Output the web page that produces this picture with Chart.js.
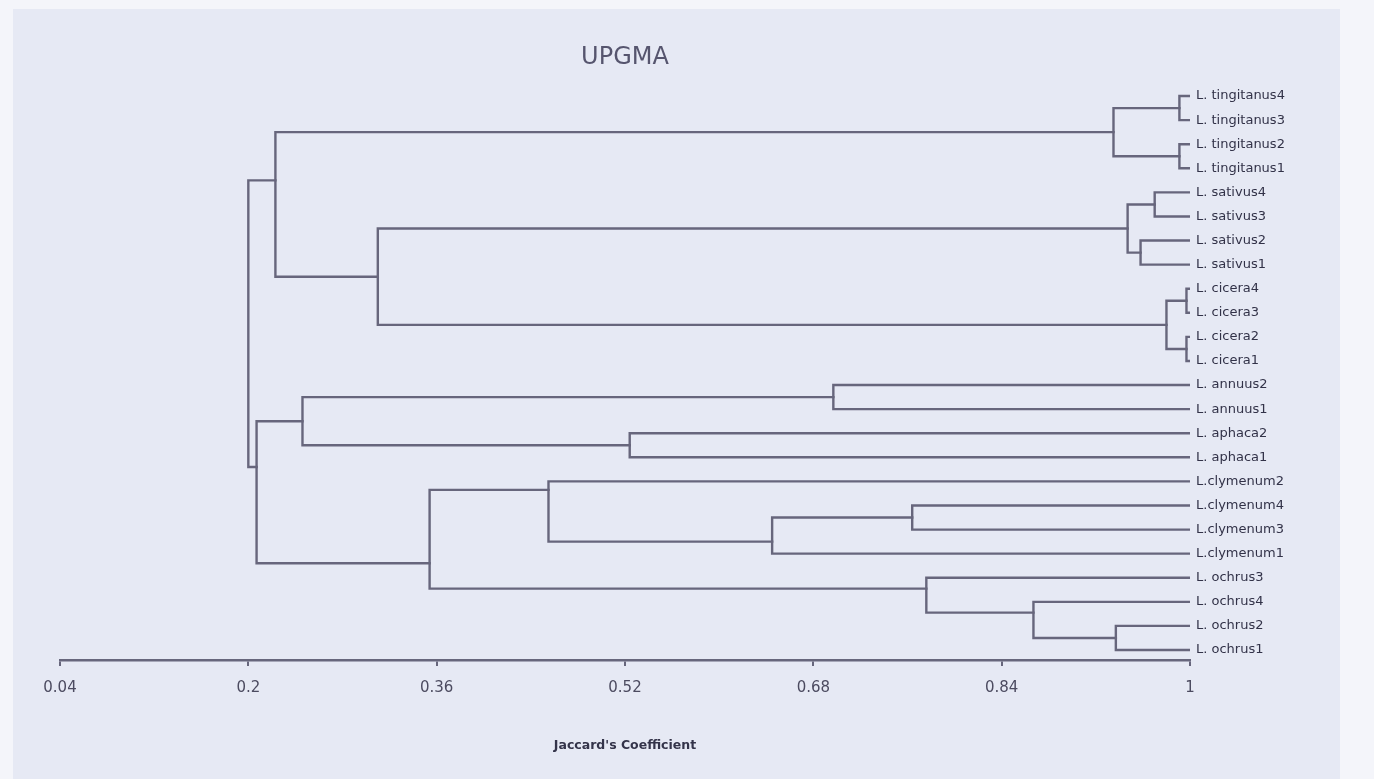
<!DOCTYPE html>
<html><head><meta charset="utf-8">
<script src="https://cdn.jsdelivr.net/npm/chart.js@4.4.1/dist/chart.umd.min.js"></script>
<style>html,body{margin:0;padding:0;background:#f3f4f9;} canvas{display:block;}</style>
</head><body>
<canvas id="c" width="1374" height="779"></canvas>
<script>
// ---- data ----
const leafNames = [
  'L. tingitanus4','L. tingitanus3','L. tingitanus2','L. tingitanus1',
  'L. sativus4','L. sativus3','L. sativus2','L. sativus1',
  'L. cicera4','L. cicera3','L. cicera2','L. cicera1',
  'L. annuus2','L. annuus1','L. aphaca2','L. aphaca1',
  'L.clymenum2','L.clymenum4','L.clymenum3','L.clymenum1',
  'L. ochrus3','L. ochrus4','L. ochrus2','L. ochrus1'
];
const leafLevel = 1;
// internal nodes (index 24 + k): two children, Jaccard level of the join, row position
const nodeLeft  = [0,2,24,4,6,27,8,10,30,29,26,12,14,35,17,38,16,22,21,20,40,37,34];
const nodeRight = [1,3,25,5,7,28,9,11,31,32,33,13,15,36,18,19,39,23,41,42,43,44,45];
const nodeLevel = [0.991,0.991,0.935,0.970,0.958,0.947,0.997,0.997,0.980,0.310,0.223,
                   0.697,0.524,0.246,0.764,0.645,0.455,0.937,0.867,0.776,0.354,0.207,0.200];
const nodeRow   = [0.5,2.5,1.5,4.5,6.5,5.5,8.5,10.5,9.5,7.5,3.5,
                   12.5,14.5,13.5,17.5,18.5,16.35,22.5,21.45,20.45,19.4,15.4,9.5];
const tickValues = [0.04,0.2,0.36,0.52,0.68,0.84,1];
const tickLabels = ['0.04','0.2','0.36','0.52','0.68','0.84','1'];

// ---- build ----
const nLeaf = leafNames.length;
const lvl = i => i < nLeaf ? leafLevel : nodeLevel[i - nLeaf];
const row = i => i < nLeaf ? i : nodeRow[i - nLeaf];
const LINE = '#67667c';
const datasets = nodeLeft.map((a, k) => {
  const b = nodeRight[k], h = nodeLevel[k];
  return {
    data: [{x: lvl(a), y: row(a)}, {x: h, y: row(a)}, {x: h, y: row(b)}, {x: lvl(b), y: row(b)}],
    showLine: true, borderColor: LINE, borderWidth: 2.4, pointRadius: 0, pointHoverRadius: 0,
    tension: 0, borderJoinStyle: 'miter', borderCapStyle: 'square', fill: false
  };
});

const bg = {
  id: 'bg',
  beforeDraw(chart) {
    const c = chart.ctx;
    c.save();
    c.fillStyle = '#f4f5fa';
    c.fillRect(0, 0, chart.width, chart.height);
    c.fillStyle = '#e6e9f4';
    c.fillRect(13, 9, 1327, chart.height - 9);
    c.restore();
  }
};

new Chart(document.getElementById('c'), {
  type: 'scatter',
  data: { datasets },
  plugins: [bg],
  options: {
    responsive: false, animation: false, devicePixelRatio: 1,
    layout: { padding: { left: 60, right: 0, top: 0, bottom: 0 } },
    plugins: {
      legend: { display: false },
      tooltip: { enabled: false },
      title: {
        display: true, text: 'UPGMA', fullSize: false,
        color: '#56556e', font: { family: 'DejaVu Sans', size: 24, weight: 'normal' },
        padding: { top: 43.6, bottom: 11.6 }
      }
    },
    scales: {
      x: {
        type: 'linear', position: 'bottom', min: 0.04, max: 1,
        afterBuildTicks: ax => { ax.ticks = tickValues.map(v => ({ value: v })); },
        afterFit: ax => { ax.height = 119; },
        border: { display: true, color: LINE, width: 2.4 },
        grid: { display: true, drawOnChartArea: false, drawTicks: true, tickLength: 6, color: LINE, lineWidth: 2 },
        ticks: {
          autoSkip: false, maxRotation: 0, padding: 13, color: '#4c4b60',
          font: { family: 'DejaVu Sans', size: 15 },
          callback: (v, i) => tickLabels[i]
        },
        title: {
          display: true, text: "Jaccard's Coefficient", color: '#34344a',
          font: { family: 'DejaVu Sans', size: 12.5, weight: 'bold' },
          padding: { top: 0, bottom: 26 }
        }
      },
      y: {
        type: 'linear', position: 'right', reverse: true, min: -0.5, max: 23.415,
        afterBuildTicks: ax => { ax.ticks = leafNames.map((_, i) => ({ value: i })); },
        afterFit: ax => { ax.width = 184; },
        border: { display: false },
        grid: { display: false, drawTicks: false },
        ticks: {
          autoSkip: false, padding: 6, color: '#323248',
          font: { family: 'DejaVu Sans', size: 13 },
          callback: v => leafNames[v]
        }
      }
    }
  }
});
</script>
</body></html>
